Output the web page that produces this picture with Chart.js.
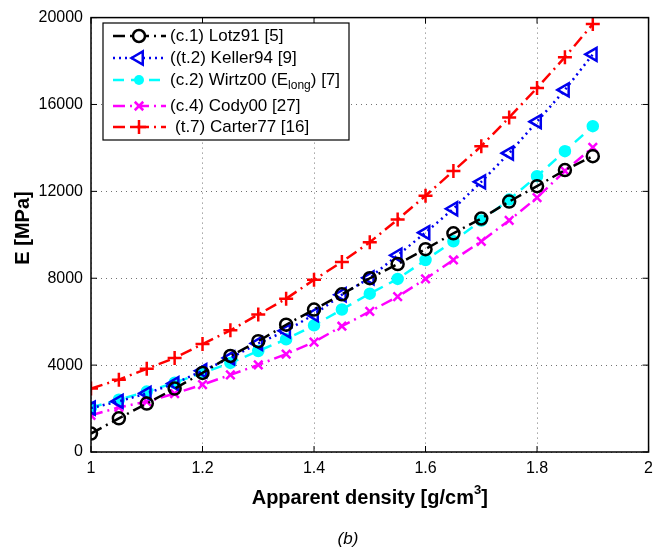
<!DOCTYPE html>
<html><head><meta charset="utf-8">
<script src="https://cdn.jsdelivr.net/npm/chart.js@4/dist/chart.umd.min.js"></script>
<style>html,body{margin:0;padding:0;background:#fff}#wrap{width:660px;height:552px}</style>
</head><body><div id="wrap"><canvas id="c" width="660" height="552"></canvas></div>
<script>
const density = [1.00,1.05,1.10,1.15,1.20,1.25,1.30,1.35,1.40,1.45,1.50,1.55,1.60,1.65,1.70,1.75,1.80,1.85,1.90];
const lotz91   = [850,1550,2230,2920,3640,4420,5100,5860,6560,7260,8000,8650,9340,10070,10750,11530,12240,12980,13620];
const keller94 = [2020,2330,2700,3150,3740,4330,5000,5580,6330,7240,8020,9060,10100,11200,12440,13760,15210,16670,18310];
const wirtz00  = [2050,2410,2780,3190,3640,4100,4650,5190,5830,6560,7290,7970,8840,9700,10660,11620,12700,13850,15000];
const cody00   = [1690,2050,2320,2690,3100,3550,4010,4510,5060,5790,6470,7150,7970,8840,9700,10660,11710,12940,14030];
const carter77 = [2920,3330,3830,4330,4970,5600,6330,7060,7930,8750,9660,10700,11800,12940,14080,15400,16760,18180,19700];
const xTicks = [1,1.2,1.4,1.6,1.8,2];
const yTicks = [0,4000,8000,12000,16000,20000];
const labels = ['(c.1) Lotz91 [5]','((t.2) Keller94 [9]','(c.2) Wirtz00 (E','(c.4) Cody00 [27]','(t.7) Carter77 [16]'];

const FONT = '"Liberation Sans", Arial, Helvetica, sans-serif';
const pts = arr => arr.map((v,i)=>({x:density[i],y:v}));

const styles = [
  {color:'#000000', dash:[12,5,2,5], style:'circle', fill:false, r:6, rot:0},
  {color:'#0000ee', dash:[2,4], style:'triangle', fill:false, r:7.5, rot:-90},
  {color:'#00ffff', dash:[11,7], style:'circle', fill:true, r:5, rot:0},
  {color:'#ff00ff', dash:[12,5,2,5], style:'crossRot', fill:false, r:6, rot:0},
  {color:'#ff0000', dash:[12,5,2,5], style:'cross', fill:false, r:7, rot:0}
];
const series = [lotz91, keller94, wirtz00, cody00, carter77];

const datasets = series.map((s,i)=>{
  const st = styles[i];
  return {
    label: labels[i],
    data: pts(s),
    showLine: true,
    borderColor: st.color,
    backgroundColor: st.fill ? st.color : 'rgba(0,0,0,0)',
    borderWidth: 2.5,
    borderDash: st.dash,
    pointStyle: st.style,
    pointRadius: st.r,
    pointRotation: st.rot,
    pointBorderColor: st.color,
    pointBackgroundColor: st.fill ? st.color : 'rgba(0,0,0,0)',
    pointBorderWidth: 2.5,
    tension: 0
  };
});

function drawMarker(ctx, st, x, y){
  ctx.save();
  ctx.setLineDash([]);
  ctx.lineWidth = 2.5;
  ctx.strokeStyle = st.color;
  ctx.fillStyle = st.color;
  const r = st.r;
  ctx.beginPath();
  if (st.style==='circle'){
    ctx.arc(x,y,r,0,Math.PI*2);
    if (st.fill) ctx.fill(); else { ctx.fillStyle='#fff'; ctx.fill(); ctx.stroke(); }
  } else if (st.style==='triangle'){
    const rad = st.rot*Math.PI/180;
    ctx.moveTo(x+Math.sin(rad)*r, y-Math.cos(rad)*r);
    ctx.lineTo(x+Math.sin(rad+2.0944)*r, y-Math.cos(rad+2.0944)*r);
    ctx.lineTo(x+Math.sin(rad-2.0944)*r, y-Math.cos(rad-2.0944)*r);
    ctx.closePath(); ctx.fillStyle='#fff'; ctx.fill(); ctx.stroke();
  } else if (st.style==='cross'){
    ctx.moveTo(x-r,y); ctx.lineTo(x+r,y); ctx.moveTo(x,y-r); ctx.lineTo(x,y+r); ctx.stroke();
  } else if (st.style==='crossRot'){
    const d=r*0.707;
    ctx.moveTo(x-d,y-d); ctx.lineTo(x+d,y+d); ctx.moveTo(x+d,y-d); ctx.lineTo(x-d,y+d); ctx.stroke();
  }
  ctx.restore();
}

const framePlugin = {
  id:'frame',
  afterDraw(chart){
    const ctx = chart.ctx, a = chart.chartArea;
    const xs = chart.scales.x, ys = chart.scales.y;
    ctx.save();
    ctx.setLineDash([]);
    ctx.strokeStyle = '#000'; ctx.lineWidth = 1.5;
    ctx.strokeRect(a.left, a.top, a.right-a.left, a.bottom-a.top);
    ctx.lineWidth = 1;
    const tl = 6;
    ctx.beginPath();
    xTicks.forEach(t=>{ const px = xs.getPixelForValue(t);
      ctx.moveTo(px,a.bottom); ctx.lineTo(px,a.bottom-tl);
      ctx.moveTo(px,a.top); ctx.lineTo(px,a.top+tl); });
    yTicks.forEach(t=>{ const py = ys.getPixelForValue(t);
      ctx.moveTo(a.left,py); ctx.lineTo(a.left+tl,py);
      ctx.moveTo(a.right,py); ctx.lineTo(a.right-tl,py); });
    ctx.stroke();

    // axis titles
    ctx.fillStyle = '#000';
    ctx.textBaseline = 'alphabetic';
    ctx.font = 'bold 20px ' + FONT;
    const t1 = 'Apparent density [g/cm', t2 = '3', t3 = ']';
    const w1 = ctx.measureText(t1).width, w3 = ctx.measureText(t3).width;
    ctx.font = 'bold 13px ' + FONT; const w2 = ctx.measureText(t2).width;
    const total = w1+w2+w3; let sx = (a.left+a.right)/2 - total/2;
    const by = 504;
    ctx.textAlign='left';
    ctx.font = 'bold 20px ' + FONT; ctx.fillText(t1, sx, by);
    ctx.font = 'bold 13px ' + FONT; ctx.fillText(t2, sx+w1, by-10);
    ctx.font = 'bold 20px ' + FONT; ctx.fillText(t3, sx+w1+w2, by);

    ctx.save();
    ctx.translate(29, 228);
    ctx.rotate(-Math.PI/2);
    ctx.textAlign='center';
    ctx.font = 'bold 20px ' + FONT;
    ctx.fillText('E [MPa]', 0, 0);
    ctx.restore();

    ctx.textAlign='center';
    ctx.font = 'italic 17px ' + FONT;
    ctx.fillText('(b)', 348, 544);

    // legend
    const lx=103, ly=23, lw=246, lh=117;
    ctx.fillStyle='#fff'; ctx.fillRect(lx,ly,lw,lh);
    ctx.strokeStyle='#000'; ctx.lineWidth=1.2; ctx.strokeRect(lx,ly,lw,lh);
    const rows=[36,58,80,106,127];
    styles.forEach((st,i)=>{
      const y = rows[i];
      ctx.save();
      ctx.strokeStyle=st.color; ctx.lineWidth=2.5; ctx.setLineDash(st.dash);
      ctx.beginPath(); ctx.moveTo(113,y); ctx.lineTo(166,y); ctx.stroke();
      ctx.restore();
      drawMarker(ctx, st, 139, y);
      ctx.fillStyle='#000'; ctx.textAlign='left'; ctx.textBaseline='middle';
      ctx.font = '17px ' + FONT;
      const tx = i===4 ? 175 : 170;
      if (i===2){
        ctx.fillText(labels[i], tx, y);
        const wa = ctx.measureText(labels[i]).width;
        ctx.font = '12px ' + FONT;
        ctx.fillText('long', tx+wa, y+6);
        const wb = ctx.measureText('long').width;
        ctx.font = '17px ' + FONT;
        ctx.fillText(') [7]', tx+wa+wb, y);
      } else {
        ctx.fillText(labels[i], tx, y);
      }
    });
    ctx.restore();
  }
};

new Chart(document.getElementById('c'), {
  type:'scatter',
  data:{datasets},
  options:{
    responsive:false, animation:false, devicePixelRatio:1,
    layout:{padding:{left:0, top:13, right:11, bottom:0}},
    plugins:{legend:{display:false}, tooltip:{enabled:false}},
    scales:{
      x:{type:'linear', min:1, max:2,
        afterBuildTicks: s => { s.ticks = xTicks.map(v=>({value:v})); },
        afterFit: s => { s.height = 100; },
        grid:{color:'rgba(0,0,0,0.55)', lineWidth:1, drawTicks:false},
        border:{display:false, dash:[1,4]},
        ticks:{color:'#000', padding:7, font:{family:FONT, size:16}, maxRotation:0,
          callback: v => String(v)}
      },
      y:{type:'linear', min:0, max:20000,
        afterBuildTicks: s => { s.ticks = yTicks.map(v=>({value:v})); },
        afterFit: s => { s.width = 91; },
        grid:{color:'rgba(0,0,0,0.55)', lineWidth:1, drawTicks:false},
        border:{display:false, dash:[1,4]},
        ticks:{color:'#000', padding:8, font:{family:FONT, size:16},
          callback: v => String(v)}
      }
    }
  },
  plugins:[framePlugin]
});
</script></body></html>
